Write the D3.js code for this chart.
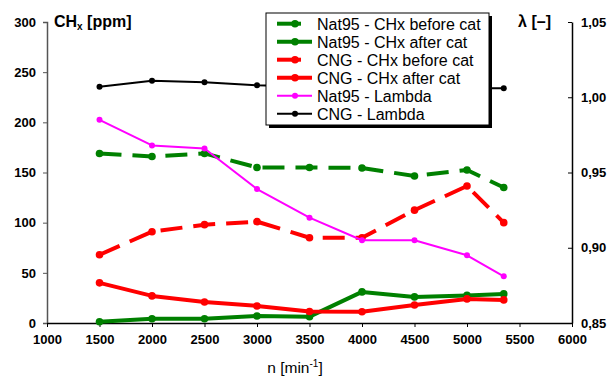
<!DOCTYPE html>
<html>
<head>
<meta charset="utf-8">
<script src="https://cdn.jsdelivr.net/npm/d3@7/dist/d3.min.js"></script>
<style>
  html, body { margin: 0; padding: 0; background: #fff; }
  svg { display: block; font-family: "Liberation Sans", Arial, sans-serif; }
</style>
</head>
<body>
<svg id="chart" width="610" height="378"></svg>
<script>
// Engine speed [min^-1]
const speeds = [1500, 2000, 2500, 3000, 3500, 4000, 4500, 5000, 5350];

// Hydrocarbon emissions [ppm]
const nat95Before = [169, 166, 169, 155, 155, 154.5, 146.5, 152.5, 135];
const nat95After  = [1.3, 4.3, 4.3, 7, 6.3, 31, 26, 27.5, 29];
const cngBefore   = [68, 91, 98, 101, 85, 85, 112.5, 136.5, 100];
const cngAfter    = [40, 27, 21, 17, 11.5, 11.2, 18, 24, 23];

// Air-fuel ratio lambda [-]
const nat95Lambda = [0.985, 0.968, 0.966, 0.939, 0.920, 0.905, 0.905, 0.895, 0.881];
const cngLambda   = [1.007, 1.011, 1.010, 1.008, 1.007, 1.006, 1.006, 1.006, 1.006];

// Axis ticks
const xTicks = [1000, 1500, 2000, 2500, 3000, 3500, 4000, 4500, 5000, 5500, 6000];
const yTicks = [0, 50, 100, 150, 200, 250, 300];
const lambdaTicks = [0.85, 0.90, 0.95, 1.00, 1.05];

const seriesNames = [
  "Nat95 - CHx before cat",
  "Nat95 - CHx after cat",
  "CNG - CHx before cat",
  "CNG - CHx after cat",
  "Nat95 - Lambda",
  "CNG - Lambda"
];

const svg = d3.select("#chart");
const L = 47, R = 572, T = 22, B = 323;

const x = d3.scaleLinear().domain([1000, 6000]).range([L, R]);
const y = d3.scaleLinear().domain([0, 300]).range([B, T]);
const yL = d3.scaleLinear().domain([0.85, 1.05]).range([B, T]);

const series = [
  { name: seriesNames[0], values: nat95Before, scale: y,  color: "#008000", width: 4, dash: "22,11", r: 3.8 },
  { name: seriesNames[1], values: nat95After,  scale: y,  color: "#008000", width: 4, dash: null,    r: 3.8 },
  { name: seriesNames[2], values: cngBefore,   scale: y,  color: "#ff0000", width: 4, dash: "22,11", r: 3.8 },
  { name: seriesNames[3], values: cngAfter,    scale: y,  color: "#ff0000", width: 4, dash: null,    r: 3.8 },
  { name: seriesNames[4], values: nat95Lambda, scale: yL, color: "#ff00ff", width: 2, dash: null,    r: 3 },
  { name: seriesNames[5], values: cngLambda,   scale: yL, color: "#000000", width: 2, dash: null,    r: 3 }
];

// Left axis
const gLeft = svg.append("g").attr("transform", `translate(${L},0)`)
  .call(d3.axisLeft(y).tickValues(yTicks).tickSize(4).tickPadding(7).tickFormat(d3.format("d")));
gLeft.select(".domain").attr("stroke", "#555").attr("stroke-width", 1.5);
gLeft.selectAll(".tick line").attr("stroke", "#555");

// Right axis (lambda)
const gRight = svg.append("g").attr("transform", `translate(${R},0)`)
  .call(d3.axisRight(yL).tickValues(lambdaTicks).tickSizeInner(-4).tickSizeOuter(0).tickPadding(9)
    .tickFormat(d => d3.format(".2f")(d).replace(".", ",")));
gRight.select(".domain").attr("stroke", "#000").attr("stroke-width", 1.5);

// Bottom axis
const gBottom = svg.append("g").attr("transform", `translate(0,${B})`)
  .call(d3.axisBottom(x).tickValues(xTicks).tickSize(4).tickSizeOuter(0).tickPadding(8).tickFormat(d3.format("d")));
gBottom.select(".domain").attr("stroke", "#000").attr("stroke-width", 1.5);

svg.selectAll(".tick text")
  .attr("font-family", "Liberation Sans, Arial, sans-serif")
  .attr("font-size", 13).attr("font-weight", "bold").attr("fill", "#000");

// Axis titles
const yTitle = svg.append("text").attr("x", 54).attr("y", 27)
  .attr("font-size", 16).attr("font-weight", "bold");
yTitle.append("tspan").text("CH");
yTitle.append("tspan").attr("font-size", 10).attr("dy", 3).text("x");
yTitle.append("tspan").attr("dy", -3).text(" [ppm]");

svg.append("text").attr("x", 551).attr("y", 27).attr("text-anchor", "end")
  .attr("font-size", 16).attr("font-weight", "bold").text("λ [–]");

const xTitle = svg.append("text").attr("x", 295).attr("y", 373).attr("text-anchor", "middle")
  .attr("font-size", 15.5);
xTitle.append("tspan").text("n [min");
xTitle.append("tspan").attr("font-size", 10).attr("dy", -6).text("-1");
xTitle.append("tspan").attr("dy", 6).text("]");

// Series lines and markers
series.forEach(s => {
  const line = d3.line().x((d, i) => x(speeds[i])).y(d => s.scale(d));
  const g = svg.append("g");
  g.append("path").datum(s.values).attr("d", line)
    .attr("fill", "none").attr("stroke", s.color).attr("stroke-width", s.width)
    .attr("stroke-dasharray", s.dash).attr("stroke-linejoin", "round");
  g.selectAll("circle").data(s.values).join("circle")
    .attr("cx", (d, i) => x(speeds[i])).attr("cy", d => s.scale(d))
    .attr("r", s.r).attr("fill", s.color);
});

// Legend
const lg = svg.append("g").attr("transform", "translate(266,13)");
const lw = 223, lh = 112;
lg.append("rect").attr("x", 3).attr("y", 3).attr("width", lw).attr("height", lh).attr("fill", "#000");
lg.append("rect").attr("x", 0).attr("y", 0).attr("width", lw).attr("height", lh)
  .attr("fill", "#fff").attr("stroke", "#000").attr("stroke-width", 1);
series.forEach((s, i) => {
  const cy = 10.7 + i * 18;
  const x0 = 11, x1 = s.dash ? 35 : 46;
  lg.append("line").attr("x1", x0).attr("x2", x1).attr("y1", cy).attr("y2", cy)
    .attr("stroke", s.color).attr("stroke-width", s.width);
  lg.append("circle").attr("cx", 29).attr("cy", cy).attr("r", s.r).attr("fill", s.color);
  lg.append("text").attr("x", 51).attr("y", cy + 6).attr("font-size", 16).text(s.name);
});
</script>
</body>
</html>
